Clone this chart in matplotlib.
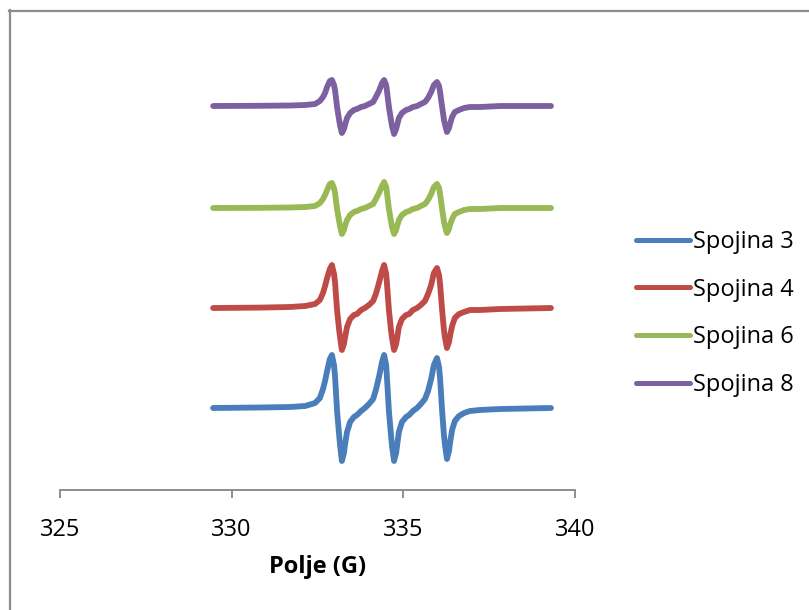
import matplotlib
matplotlib.use("Agg")
import matplotlib.pyplot as plt
from matplotlib.lines import Line2D

plt.rcParams['font.family'] = ['Open Sans', 'DejaVu Sans']

# Magnetic field (G)
field = [329.46, 330.83, 331.70, 332.14, 332.43, 332.57, 332.66, 332.72, 332.78, 332.86,
         332.92, 332.98, 333.01, 333.07, 333.13, 333.16, 333.21, 333.27, 333.30, 333.36,
         333.45, 333.56, 333.65, 333.77, 333.88, 334.00, 334.12, 334.20, 334.29, 334.38,
         334.44, 334.50, 334.52, 334.58, 334.64, 334.67, 334.73, 334.79, 334.82, 334.87,
         334.96, 335.08, 335.17, 335.28, 335.40, 335.51, 335.63, 335.72, 335.81, 335.89,
         335.98, 336.04, 336.07, 336.13, 336.18, 336.21, 336.27, 336.33, 336.36, 336.42,
         336.50, 336.62, 336.77, 336.94, 337.23, 337.82, 339.30]

# EPR signal (a.u.)
spojina3 = [0, 0.5, 1, 2, 5, 10, 19, 27, 37, 49,
            53, 43, 32, -3, -27, -38, -53, -45, -37, -24,
            -14, -9, -7, -3, 0, 4, 9, 18, 31, 46,
            53, 43, 32, -3, -27, -38, -53, -45, -37, -24,
            -14, -9, -7, -3, 0, 4, 9, 17, 29, 43,
            50, 41, 30, -3, -26, -36, -51, -43, -35, -22,
            -13, -8, -5, -3, -2, -1, 0]
spojina4 = [0, 0.4, 1, 2, 4, 8, 15, 22, 30, 39,
            43, 34, 26, -2, -22, -30, -42, -36, -30, -19,
            -11, -7, -6, -2, 0, 3, 7, 14, 25, 37,
            43, 34, 26, -2, -22, -30, -42, -36, -30, -19,
            -11, -7, -6, -2, 0, 3, 7, 14, 23, 35,
            40, 33, 24, -2, -21, -29, -40, -34, -28, -18,
            -10, -6, -4, -2, -2, -1, 0]
spojina6 = [0, 0.2, 0.5, 1, 2, 5, 9, 13, 18, 24,
            25, 20, 15, -1, -13, -19, -26, -22, -18, -12,
            -7, -4, -3, -1, 0, 2, 4, 9, 15, 22,
            26, 21, 16, -1, -13, -19, -26, -22, -18, -12,
            -7, -4, -3, -1, 0, 2, 4, 8, 14, 21,
            24, 20, 14, -1, -13, -18, -25, -21, -17, -11,
            -6, -4, -2, -1, -1, 0, 0]
spojina8 = [0, 0.2, 0.5, 1, 2, 5, 9, 13, 19, 25,
            26, 21, 16, -1, -14, -20, -27, -23, -19, -12,
            -7, -4, -3, -1, 0, 2, 4, 9, 15, 23,
            26, 21, 16, -1, -14, -20, -28, -23, -19, -12,
            -7, -4, -3, -1, 0, 2, 4, 8, 14, 21,
            24, 20, 14, -1, -13, -18, -26, -22, -18, -11,
            -6, -4, -2, -1, -1, 0, 0]

labels = ['Spojina 3', 'Spojina 4', 'Spojina 6', 'Spojina 8']
offsets = [0, 100, 200, 302]
colors = ['#4A7EBB', '#BE4B48', '#98B954', '#7D60A0']
xticks = [325, 330, 335, 340]

W, H = 809, 610
fig = plt.figure(figsize=(W / 100, H / 100), dpi=100)
ax = fig.add_axes([60 / W, (H - 490) / H, 515 / W, 468 / H])

for y, off, c, lab in zip([spojina3, spojina4, spojina6, spojina8], offsets, colors, labels):
    ax.plot(field, [v + off for v in y], color=c, lw=4.2, label=lab,
            solid_capstyle='round', solid_joinstyle='round')

ax.set_xlim(325, 340)
ax.set_ylim(-82, 386)
ax.set_xticks(xticks)
ax.set_yticks([])
for s in ['left', 'top', 'right']:
    ax.spines[s].set_visible(False)
ax.spines['bottom'].set_color('#868686')
ax.spines['bottom'].set_linewidth(1.3)
ax.tick_params(axis='x', direction='out', length=6, width=1.3, color='#868686',
               labelsize=17, pad=14, labelcolor='black')

ax.set_xlabel('Polje (G)', fontsize=17, fontweight='bold')
ax.xaxis.set_label_coords(0.5, -77 / 468)
ax.xaxis.label.set_va('center')

leg = ax.legend(loc='upper left', bbox_to_anchor=(636 / W, 1 - 230 / H),
                bbox_transform=fig.transFigure, frameon=False, fontsize=17,
                handlelength=2.3, handletextpad=0.12, borderpad=0, borderaxespad=0,
                labelspacing=1.0)
for ln in leg.get_lines():
    ln.set_linewidth(3.6)

# outer chart border (cropped at right and bottom)
fig.add_artist(Line2D([9.5 / W, 9.5 / W], [0, 1 - 10 / H], transform=fig.transFigure,
                      color='#8C8C8C', lw=1.6))
fig.add_artist(Line2D([9 / W, 1], [1 - 10.5 / H, 1 - 10.5 / H], transform=fig.transFigure,
                      color='#8C8C8C', lw=1.6))

fig.savefig('out.png', dpi=100)
